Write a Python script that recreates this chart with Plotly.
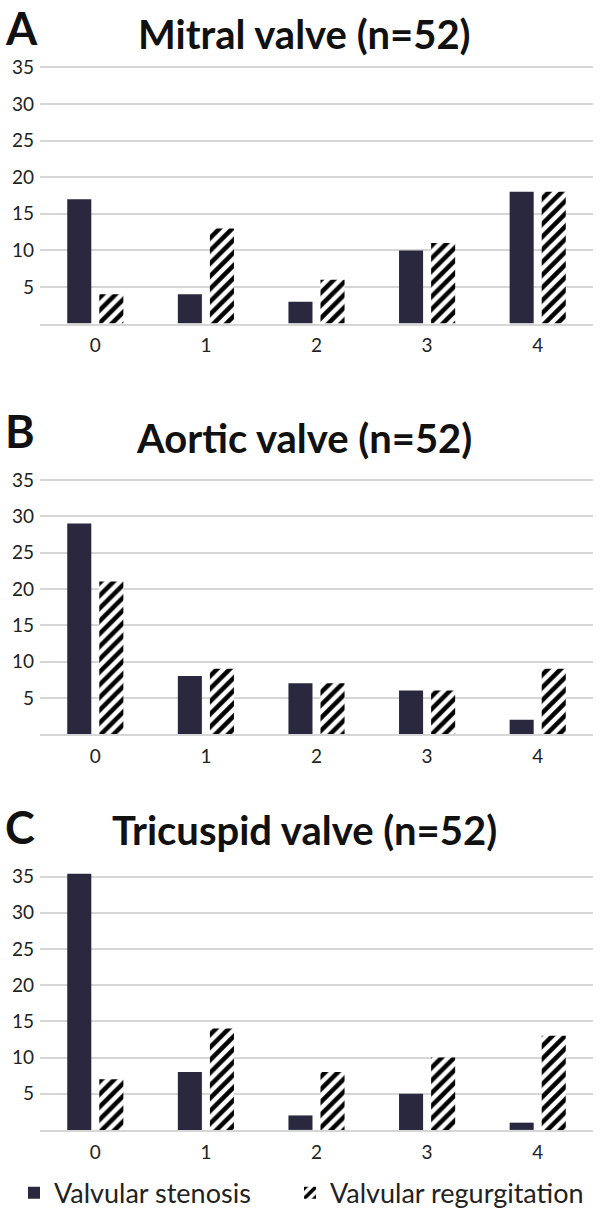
import plotly.graph_objects as go

categories = ["0", "1", "2", "3", "4"]
panel_titles = ["Mitral valve (n=52)", "Aortic valve (n=52)", "Tricuspid valve (n=52)"]
panel_letters = ["A", "B", "C"]
stenosis = [
    [17, 4, 3, 10, 18],
    [29, 8, 7, 6, 2],
    [36, 8, 2, 5, 1],
]
regurgitation = [
    [4, 13, 6, 11, 18],
    [21, 9, 7, 6, 9],
    [7, 14, 8, 10, 13],
]
y_ticks = [5, 10, 15, 20, 25, 30, 35]
series_names = ["Valvular stenosis", "Valvular regurgitation"]

W, H = 600, 1218
FONT = "Lato"
DARK = "#29283f"
GRID = "#d6d6d6"
TITLE_SIZE = 40
LETTER_SIZE = 45

# pixel layout of each panel: (baseline_y, y_of_35, title_cap_center, letter_cap_center)
panels_px = [(318, 59, 30, 24), (733, 476, 438, 432), (1133, 877, 834, 832)]
x_left, x_right = 40, 593
YMAX = 35.4

fig = go.Figure()
layout_axes = {}
annotations = []
for i in range(3):
    base, top35, ty, ly = panels_px[i]
    per = (base - top35) / 35.0
    top_px = base - YMAX * per
    suffix = "" if i == 0 else str(i + 1)
    xa = "x" + suffix
    ya = "y" + suffix
    fig.add_trace(go.Bar(
        x=categories, y=stenosis[i], name=series_names[0],
        marker=dict(color=DARK, line=dict(width=0)),
        xaxis=xa, yaxis=ya, showlegend=(i == 0), legend="legend",
    ))
    fig.add_trace(go.Bar(
        x=categories, y=regurgitation[i], name=series_names[1],
        marker=dict(color="white", line=dict(width=0),
                    pattern=dict(shape="/", fgcolor="black", bgcolor="white",
                                 size=9, solidity=0.5, fgopacity=1)),
        xaxis=xa, yaxis=ya, showlegend=(i == 0), legend="legend2",
    ))
    layout_axes["xaxis" + suffix] = dict(
        domain=[x_left / W, x_right / W], anchor=ya, type="category",
        showgrid=False, showline=True, linecolor=GRID, linewidth=2,
        ticks="", tickfont=dict(family=FONT, size=19, color="#222"),
        ticklabelstandoff=4, zeroline=False, fixedrange=True,
    )
    layout_axes["yaxis" + suffix] = dict(
        domain=[1 - base / H, 1 - top_px / H], anchor=xa,
        range=[0, YMAX], tickvals=y_ticks, showgrid=True, gridcolor=GRID,
        gridwidth=1.5, zeroline=False, showline=False, ticks="",
        tickfont=dict(family=FONT, size=19, color="#222"), ticklabelstandoff=5,
    )
    annotations.append(dict(
        text="<b>" + panel_titles[i] + "</b>", xref="paper", yref="paper",
        x=304 / W, y=1 - (ty - 0.11 * TITLE_SIZE) / H, xanchor="center", yanchor="middle",
        showarrow=False, font=dict(family=FONT, size=TITLE_SIZE, color="#111"),
    ))
    annotations.append(dict(
        text="<b>" + panel_letters[i] + "</b>", xref="paper", yref="paper",
        x=3 / W, y=1 - (ly - 0.11 * LETTER_SIZE) / H, xanchor="left", yanchor="middle",
        showarrow=False, font=dict(family=FONT, size=LETTER_SIZE, color="#111"),
    ))

legend_font = dict(family=FONT, size=27, color="#222")
fig.update_layout(
    width=W, height=H, margin=dict(l=0, r=0, t=0, b=0),
    paper_bgcolor="white", plot_bgcolor="white",
    barmode="group", bargap=0.42, bargroupgap=0.25,
    annotations=annotations,
    legend=dict(x=14 / W, y=1 - 1197 / H, xanchor="left", yanchor="middle",
                font=legend_font, bgcolor="rgba(0,0,0,0)"),
    legend2=dict(x=290 / W, y=1 - 1197 / H, xanchor="left", yanchor="middle",
                 font=legend_font, bgcolor="rgba(0,0,0,0)"),
    **layout_axes,
)

fig.write_html("out.html")
